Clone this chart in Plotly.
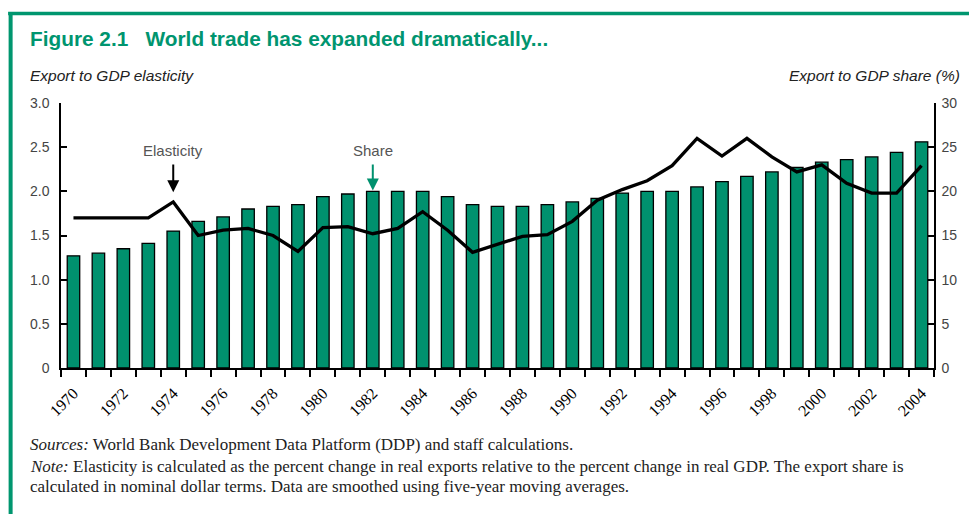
import plotly.graph_objects as go

# Data
years = list(range(1970, 2005))
share_pct = [12.7, 13.0, 13.5, 14.1, 15.5, 16.6, 17.1, 18.0, 18.3, 18.5,
             19.4, 19.7, 20.0, 20.0, 20.0, 19.4, 18.5, 18.3, 18.3, 18.5,
             18.8, 19.2, 19.8, 20.0, 20.0, 20.5, 21.1, 21.7, 22.2, 22.7,
             23.3, 23.6, 23.9, 24.4, 25.6]
elasticity = [1.70, 1.70, 1.70, 1.70, 1.88, 1.50, 1.56, 1.58, 1.50, 1.32,
              1.59, 1.60, 1.52, 1.58, 1.77, 1.56, 1.31, 1.40, 1.49, 1.51,
              1.66, 1.90, 2.02, 2.12, 2.29, 2.60, 2.40, 2.60, 2.39, 2.22,
              2.30, 2.09, 1.98, 1.98, 2.29]
left_ticks = [0, 0.5, 1.0, 1.5, 2.0, 2.5, 3.0]
left_labels = ["0", "0.5", "1.0", "1.5", "2.0", "2.5", "3.0"]
right_ticks = [0, 5, 10, 15, 20, 25, 30]
label_years = list(range(1970, 2005, 2))

TEAL = "#00916E"
FRAME = "#00966F"
SANS = "Liberation Sans, Arial, sans-serif"
SERIF = "Liberation Serif, Times New Roman, serif"

fig = go.Figure()

# Export share bars (right-hand scale)
fig.add_trace(go.Bar(
    x=years, y=share_pct, yaxis="y",
    marker=dict(color=TEAL, line=dict(color="black", width=1.3)),
    width=0.5, showlegend=False,
))

# Elasticity line (left-hand scale), drawn above the bars
fig.add_trace(go.Scatter(
    x=years, y=elasticity, yaxis="y2", mode="lines",
    line=dict(color="black", width=3.3), showlegend=False,
))

W, H = 969, 514
L, R, T, B = 61, 33, 103, 146
pw, ph = W - L - R, H - T - B


def px_x(p):
    return (p - L) / pw


def px_y(p):
    return (H - B - p) / ph


fig.update_layout(
    width=W, height=H,
    margin=dict(l=L, r=R, t=T, b=B),
    paper_bgcolor="white", plot_bgcolor="white",
    xaxis=dict(
        range=[1969.5, 2004.5],
        tickmode="array", tickvals=label_years,
        ticktext=[str(y) for y in label_years],
        tickangle=-45, ticks="", ticklabelstandoff=8,
        tickfont=dict(family=SERIF, size=16, color="black"),
        showline=True, linecolor="black", linewidth=1.5,
        showgrid=False, zeroline=False,
        minor=dict(tickmode="array",
                   tickvals=[y - 0.5 for y in years] + [2004.5],
                   ticks="outside", ticklen=7, tickwidth=1.5,
                   tickcolor="black", showgrid=False),
    ),
    yaxis=dict(
        side="right", range=[0, 30],
        tickmode="array", tickvals=right_ticks,
        ticks="inside", ticklen=6, tickwidth=1.5, tickcolor="black",
        ticklabelstandoff=3,
        tickfont=dict(family=SANS, size=14, color="#444"),
        showline=True, linecolor="black", linewidth=1.5,
        showgrid=False, zeroline=False,
    ),
    yaxis2=dict(
        side="left", overlaying="y", range=[0, 3],
        tickmode="array", tickvals=left_ticks, ticktext=left_labels,
        ticks="inside", ticklen=6, tickwidth=1.5, tickcolor="black",
        ticklabelstandoff=7,
        tickfont=dict(family=SANS, size=14, color="#444"),
        showline=True, linecolor="black", linewidth=1.5,
        showgrid=False, zeroline=False,
    ),
)

# Frame along the top and left edges
fig.add_shape(type="line", xref="paper", yref="paper",
              x0=px_x(8), x1=px_x(975), y0=px_y(13.5), y1=px_y(13.5),
              line=dict(color=FRAME, width=3.5))
fig.add_shape(type="line", xref="paper", yref="paper",
              x0=px_x(10.5), x1=px_x(10.5), y0=px_y(12), y1=px_y(520),
              line=dict(color=FRAME, width=4))

anns = [
    dict(text="<b>Figure 2.1   World trade has expanded dramatically...</b>",
         x=px_x(28), y=px_y(38), xanchor="left", yanchor="middle",
         font=dict(family=SANS, size=20.8, color="#00956F")),
    dict(text="<i>Export to GDP elasticity</i>",
         x=px_x(28), y=px_y(75), xanchor="left", yanchor="middle",
         font=dict(family=SANS, size=15.5, color="#222")),
    dict(text="<i>Export to GDP share (%)</i>",
         x=px_x(964), y=px_y(75), xanchor="right", yanchor="middle",
         font=dict(family=SANS, size=15.5, color="#222")),
    dict(text="<i>Sources:</i> World Bank Development Data Platform (DDP) and staff calculations.",
         x=px_x(28), y=px_y(444), xanchor="left", yanchor="middle",
         font=dict(family=SERIF, size=17, color="#222")),
    dict(text="<i>Note:</i> Elasticity is calculated as the percent change in real exports relative to the percent change in real GDP. The export share is",
         x=px_x(28), y=px_y(466), xanchor="left", yanchor="middle",
         font=dict(family=SERIF, size=17, color="#222")),
    dict(text="calculated in nominal dollar terms. Data are smoothed using five-year moving averages.",
         x=px_x(28), y=px_y(486), xanchor="left", yanchor="middle",
         font=dict(family=SERIF, size=17, color="#222")),
]
for a in anns:
    fig.add_annotation(xref="paper", yref="paper", showarrow=False, **a)

# Series labels with pointer arrows
fig.add_annotation(text="Elasticity", x=1974, y=2.46, xref="x", yref="y2",
                   showarrow=False, font=dict(family=SANS, size=15, color="#555"))
fig.add_annotation(text="", x=1974, y=1.99, ax=1974, ay=2.32,
                   xref="x", yref="y2", axref="x", ayref="y2",
                   showarrow=True, arrowhead=2, arrowsize=1.2, arrowwidth=2,
                   arrowcolor="black")
fig.add_annotation(text="Share", x=1982, y=24.6, xref="x", yref="y",
                   showarrow=False, font=dict(family=SANS, size=15, color="#555"))
fig.add_annotation(text="", x=1982, y=20.1, ax=1982, ay=23.2,
                   xref="x", yref="y", axref="x", ayref="y",
                   showarrow=True, arrowhead=2, arrowsize=1.2, arrowwidth=2,
                   arrowcolor=TEAL)

fig.write_html("out.html")
